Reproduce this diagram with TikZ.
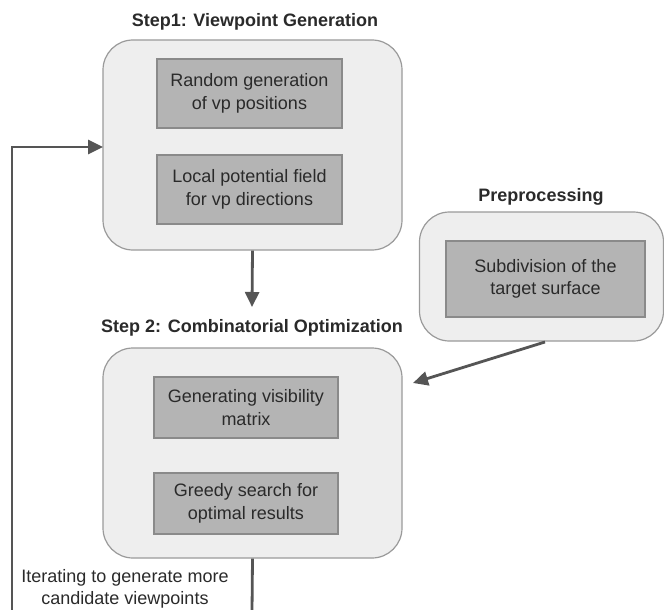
\documentclass[tikz,border=0pt]{standalone}
\usepackage{fontspec}
\setmainfont{Liberation Sans}
\usetikzlibrary{arrows.meta}
\definecolor{outerfill}{HTML}{EEEEEE}
\definecolor{outerdraw}{HTML}{9A9A9A}
\definecolor{innerfill}{HTML}{B4B4B4}
\definecolor{innerdraw}{HTML}{8A8A8A}
\definecolor{txt}{HTML}{2A2A2A}
\definecolor{arr}{HTML}{555555}
\tikzset{
  outerbox/.style={draw=outerdraw, fill=outerfill, line width=1.2pt, rounded corners=30pt, inner sep=0pt},
  innerbox/.style={draw=innerdraw, fill=innerfill, line width=1.2pt, inner sep=0pt, align=center, text=txt, font=\fontsize{18}{22.5}\selectfont},
  titletext/.style={text=txt, font=\fontsize{18}{22}\selectfont\bfseries, inner sep=0pt},
  labeltext/.style={text=txt, font=\fontsize{18}{22.5}\selectfont, align=center, inner sep=0pt},
  conn/.style={draw=arr, line width=2.8pt},
  arrowconn/.style={conn, -{Triangle[length=15pt,width=14pt]}}
}
\begin{document}
\begin{tikzpicture}[x=1pt,y=-1pt]
\useasboundingbox (0,0) rectangle (664,610);
% Step 1
\node[titletext] (t1) at (255,22) {Step1: Viewpoint Generation};
\node[outerbox, minimum width=299pt, minimum height=210pt] (s1) at (252.5,145) {};
\node[innerbox, minimum width=185pt, minimum height=69pt] (a1) at (249.5,93.5) {Random generation\\of vp positions};
\node[innerbox, minimum width=185pt, minimum height=69pt] (a2) at (249.5,189.5) {Local potential field\\for vp directions};
% Preprocessing
\node[titletext] (tp) at (541,197) {Preprocessing};
\node[outerbox, minimum width=244pt, minimum height=129pt] (pp) at (541.5,276.5) {};
\node[innerbox, minimum width=199pt, minimum height=76pt] (p1) at (545.5,279) {Subdivision of the\\target surface};
% Step 2
\node[titletext] (t2) at (252,328) {Step 2: Combinatorial Optimization};
\node[outerbox, minimum width=299pt, minimum height=210pt] (s2) at (252.5,453) {};
\node[innerbox, minimum width=184pt, minimum height=61pt] (b1) at (246,407.5) {Generating visibility\\matrix};
\node[innerbox, minimum width=184pt, minimum height=61pt] (b2) at (246,503.5) {Greedy search for\\optimal results};
% loop label
\node[labeltext] (lab) at (125,589) {Iterating to generate more\\candidate viewpoints};
% connectors
\coordinate (e1) at (252,307);
\coordinate (e2) at (413,383);
\coordinate (ps) at (545,342);
\coordinate (bot1) at (252,612);
\coordinate (bot2) at (12,612);
\coordinate (lc) at (12,147);
\coordinate (in1) at (103,147);
\draw[arrowconn] (s1.south) -- (e1);
\draw[arrowconn] (ps) -- (e2);
\draw[conn] (s2.south) -- (bot1);
\draw[arrowconn] (bot2) -- (lc) -- (in1);
\end{tikzpicture}
\end{document}
